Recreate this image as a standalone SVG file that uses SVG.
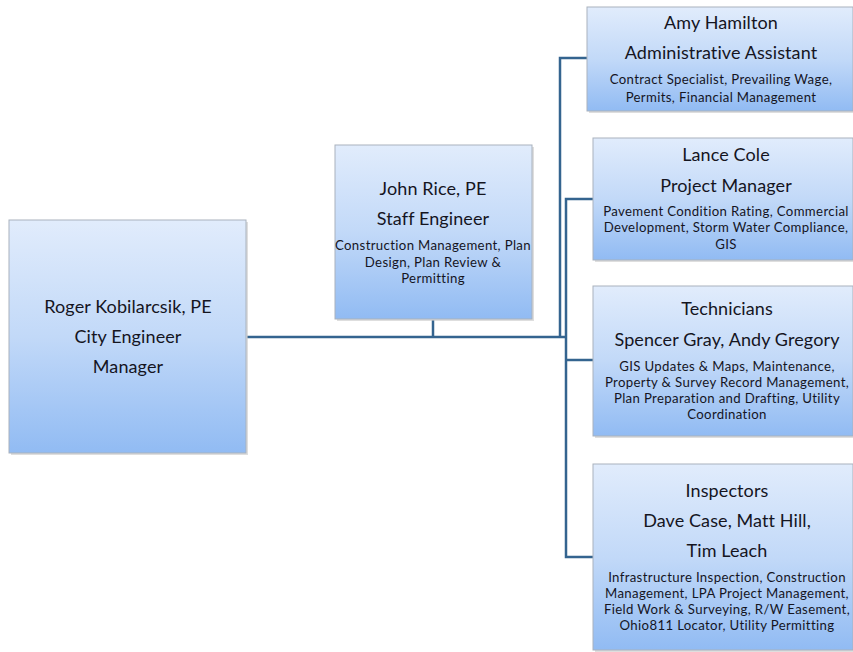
<svg xmlns="http://www.w3.org/2000/svg" width="853" height="652" viewBox="0 0 853 652">
<defs>
<linearGradient id="g" x1="0" y1="0" x2="0" y2="1">
<stop offset="0" stop-color="#e1ecfc"/>
<stop offset="0.5" stop-color="#c2d9f8"/>
<stop offset="1" stop-color="#91bbf3"/>
</linearGradient>
<style>
.box{fill:url(#g);stroke:#a9b2bd;stroke-width:1}
.sh{fill:#c8c8c8;opacity:0.6}
.t{font-family:Lato,"Open Sans",sans-serif;fill:#15151f;text-anchor:middle}
.m{font-size:18px;letter-spacing:0.1px}
.s{font-size:13.2px;letter-spacing:0.35px}
.c{fill:none;stroke:#34648f;stroke-width:2.5}
</style>
</defs>
<rect width="853" height="652" fill="#ffffff"/>
<g id="connectors">
<path class="c" d="M247 337 H566"/>
<path class="c" d="M433 320 V337"/>
<path class="c" d="M560 337 V58 H587"/>
<path class="c" d="M593 199 H566 V557 H593"/>
<path class="c" d="M566 360 H593"/>
</g>
<g id="roger">
<rect class="sh" x="11" y="222" width="237" height="233"/>
<rect class="box" x="9" y="220" width="237" height="233"/>
<text class="t m" x="128" y="313">Roger Kobilarcsik, PE</text>
<text class="t m" x="128" y="343">City Engineer</text>
<text class="t m" x="128" y="373">Manager</text>
</g>
<g id="john">
<rect class="sh" x="337" y="147" width="197" height="174"/>
<rect class="box" x="335" y="145" width="197" height="174"/>
<text class="t m" x="433" y="195">John Rice, PE</text>
<text class="t m" x="433" y="225">Staff Engineer</text>
<text class="t s" x="433" y="250">Construction Management, Plan</text>
<text class="t s" x="433" y="267">Design, Plan Review &amp;</text>
<text class="t s" x="433" y="283">Permitting</text>
</g>
<g id="amy">
<rect class="sh" x="589" y="9" width="266" height="104"/>
<rect class="box" x="587" y="7" width="266" height="104"/>
<text class="t m" x="721" y="29">Amy Hamilton</text>
<text class="t m" x="721" y="59">Administrative Assistant</text>
<text class="t s" x="721" y="84">Contract Specialist, Prevailing Wage,</text>
<text class="t s" x="721" y="102">Permits, Financial Management</text>
</g>
<g id="lance">
<rect class="sh" x="595" y="140" width="260" height="122"/>
<rect class="box" x="593" y="138" width="260" height="122"/>
<text class="t m" x="726" y="161">Lance Cole</text>
<text class="t m" x="726" y="192">Project Manager</text>
<text class="t s" x="726" y="216">Pavement Condition Rating, Commercial</text>
<text class="t s" x="726" y="232">Development, Storm Water Compliance,</text>
<text class="t s" x="726" y="249">GIS</text>
</g>
<g id="technicians">
<rect class="sh" x="595" y="288" width="260" height="150"/>
<rect class="box" x="593" y="286" width="260" height="150"/>
<text class="t m" x="727" y="315">Technicians</text>
<text class="t m" x="727" y="346">Spencer Gray, Andy Gregory</text>
<text class="t s" x="727" y="371">GIS Updates &amp; Maps, Maintenance,</text>
<text class="t s" x="727" y="387">Property &amp; Survey Record Management,</text>
<text class="t s" x="727" y="403">Plan Preparation and Drafting, Utility</text>
<text class="t s" x="727" y="419">Coordination</text>
</g>
<g id="inspectors">
<rect class="sh" x="595" y="466" width="260" height="186"/>
<rect class="box" x="593" y="464" width="260" height="186"/>
<text class="t m" x="727" y="497">Inspectors</text>
<text class="t m" x="727" y="527">Dave Case, Matt Hill,</text>
<text class="t m" x="727" y="557">Tim Leach</text>
<text class="t s" x="727" y="582">Infrastructure Inspection, Construction</text>
<text class="t s" x="727" y="598">Management, LPA Project Management,</text>
<text class="t s" x="727" y="614">Field Work &amp; Surveying, R/W Easement,</text>
<text class="t s" x="727" y="630">Ohio811 Locator, Utility Permitting</text>
</g>
</svg>
